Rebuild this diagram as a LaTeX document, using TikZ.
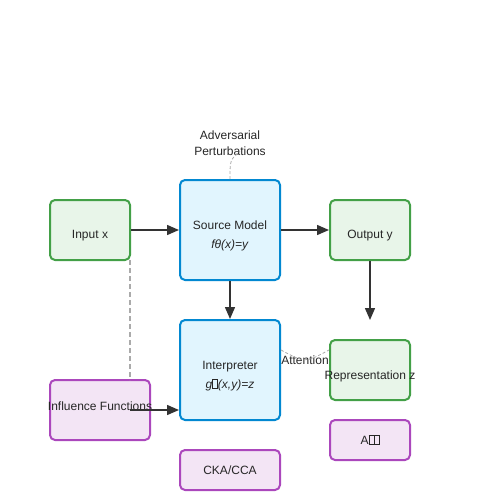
\documentclass[tikz,border=0pt]{standalone}
\usepackage{fontspec}
\setmainfont{Liberation Sans}
\usetikzlibrary{arrows.meta}

\definecolor{greenfill}{HTML}{E8F5E9}
\definecolor{greenline}{HTML}{43A047}
\definecolor{bluefill}{HTML}{E1F5FE}
\definecolor{blueline}{HTML}{0288D1}
\definecolor{purplefill}{HTML}{F3E5F5}
\definecolor{purpleline}{HTML}{AB47BC}
\definecolor{arrowgray}{HTML}{333333}
\definecolor{dashgray}{HTML}{AAAAAA}

% glyph the font could not set
\newcommand{\missingglyph}{{\fboxsep=0pt\fboxrule=0.5pt\fbox{\rule{0pt}{8.5pt}\hspace{4.5pt}}}}

\tikzset{
    box/.style={draw, rounded corners=5pt, line width=2pt, inner sep=0pt},
    databox/.style={box, fill=greenfill, draw=greenline, minimum width=80pt, minimum height=60pt},
    modelbox/.style={box, fill=bluefill, draw=blueline, minimum width=100pt, minimum height=100pt},
    methodbox/.style={box, fill=purplefill, draw=purpleline, minimum height=40pt},
    txt/.style={inner sep=0pt, font=\fontsize{12}{16}\selectfont, text=black!85, align=center},
    flow/.style={draw=arrowgray, line width=1.5pt, -{Triangle[length=12pt,width=10pt]}},
    link/.style={draw=dashgray, line width=0.8pt, dash pattern=on 3pt off 2pt},
}

\begin{document}
\begin{tikzpicture}[x=1pt, y=-1pt]
    \useasboundingbox (0,0) rectangle (500,500);

    % boxes
    \node[databox] (input) at (90, 230) {};
    \node[modelbox] (source) at (230, 230) {};
    \node[databox] (output) at (370, 230) {};
    \node[modelbox] (interp) at (230, 370) {};
    \node[databox] (repr) at (370, 370) {};
    \node[methodbox, minimum width=100pt, minimum height=60pt] (influence) at (100, 410) {};
    \node[methodbox, minimum width=80pt] (amethod) at (370, 440) {};
    \node[methodbox, minimum width=100pt] (cka) at (230, 470) {};

    % texts
    \node[txt] (inputtxt) at (90, 236) {Input x};
    \node[txt] (sourcetxt) at (230, 236) {Source Model\\[3pt]\textit{fθ(x)=y}};
    \node[txt] (outputtxt) at (370, 236) {Output y};
    \node[txt] (interptxt) at (230, 376) {Interpreter\\[3pt]\textit{g\missingglyph(x,y)=z}};
    \node[txt] (reprtxt) at (370, 376) {Representation z};
    \node[txt] (influencetxt) at (100, 406) {Influence Functions};
    \node[txt] (amethodtxt) at (370, 440) {A\missingglyph\missingglyph};
    \node[txt] (ckatxt) at (230, 470) {CKA/CCA};
    \node[txt] (advtxt) at (230, 143) {Adversarial\\Perturbations};
    \node[txt] (attntxt) at (305, 360) {Attention};

    \coordinate (advend) at (240, 151);
    \coordinate (outend) at (370, 320);
    \coordinate (inflstart) at (130, 410);

    % main flow
    \draw[flow] (input.east) -- (source.west);
    \draw[flow] (source.east) -- (output.west);
    \draw[flow] (source.south) -- (interp.north);
    \draw[flow] (output.south) -- (outend);
    \draw[flow] (inflstart) -- (interp.west |- inflstart);

    % dashed links
    \draw[link, line width=1.6pt, dash pattern=on 5pt off 3pt] (130, 260) -- (130, 380);
    \draw[link] (source.north) .. controls (230, 160) .. (advend);
    \draw[link] (interp.east |- 0,350) .. controls (305, 363) .. (repr.west |- 0,350);
\end{tikzpicture}
\end{document}
